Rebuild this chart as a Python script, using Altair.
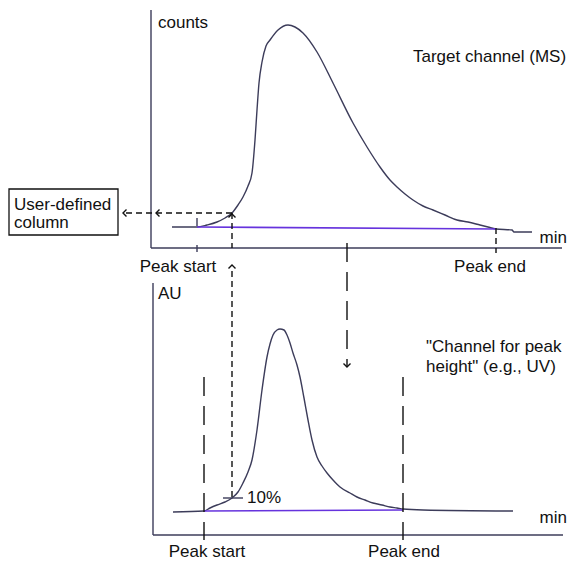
import altair as alt
import pandas as pd

# ---- Target channel (MS) trace (x = time position, y = signal position) ----
ms_x = [172, 197, 207, 217, 225, 232, 238, 243, 248, 252, 255, 257, 259, 262, 266, 270,
        278, 288, 295, 303, 317, 333, 353, 367, 380, 390, 397, 405, 413, 423, 433, 445,
        457, 468, 480, 488, 496, 512, 514, 532]
ms_y = [227, 227, 225, 222, 218, 213, 205, 197, 186, 173, 140, 110, 83, 62, 46, 40,
        30, 25, 27, 33, 52, 83, 123, 147, 167, 180, 187, 194, 200, 206, 210, 215,
        220, 222, 225, 227, 229, 230, 232, 232]

# ---- "Channel for peak height" (UV) trace ----
uv_x = [173, 204, 210, 217, 225, 232, 238, 243, 248, 252, 257, 262, 267, 270, 273, 277,
        280, 284, 287, 290, 293, 297, 300, 304, 308, 312, 317, 322, 327, 333, 340, 350,
        357, 365, 373, 382, 390, 397, 403, 423, 513]
uv_y = [512, 511, 508, 505, 502, 498, 492, 483, 472, 460, 430, 390, 357, 344, 335, 330,
        329, 330, 335, 343, 353, 365, 377, 398, 420, 440, 457, 466, 473, 480, 487, 493,
        497, 500, 503, 505, 507, 508, 509, 510, 511]

# ---- baselines (peak start -> peak end) ----
ms_base_x = [197, 496]
ms_base_y = [227, 229]
uv_base_x = [204, 403]
uv_base_y = [511, 510]

# ---- solid segments: axes and small ticks ----
solid_x1 = [151, 151, 153, 153, 197, 197, 223]
solid_y1 = [10, 248, 283, 535, 218, 245, 498]
solid_x2 = [151, 562, 153, 563, 197, 197, 243]
solid_y2 = [248, 248, 535, 535, 226, 252, 498]

# ---- short-dashed segments ----
sdash_x1 = [232, 232, 232, 496]
sdash_y1 = [213, 213, 271, 228]
sdash_x2 = [122, 232, 232, 496]
sdash_y2 = [213, 248, 497, 253]

# ---- long-dashed segments ----
ldash_x1 = [347, 204, 403]
ldash_y1 = [243, 377, 377]
ldash_x2 = [347, 204, 403]
ldash_y2 = [366, 540, 540]

# ---- arrow heads ----
head_x = [123, 156, 232, 232, 347]
head_y = [213, 213, 265, 214, 367]
head_dir = ["left", "left", "up", "up", "down"]

# ---- label box ----
box_x1, box_y1, box_x2, box_y2 = [9], [189], [118], [235]

# ---- texts ----
txt = ["counts", "Target channel (MS)", "min", "User-defined", "column",
       "Peak start", "Peak end", "AU", '"Channel for peak', 'height" (e.g., UV)',
       "10%", "min", "Peak start", "Peak end"]
txt_x = [158, 413, 567, 14, 14, 178, 490, 158, 426, 426, 247, 567, 207, 404]
txt_y = [23, 57, 238, 205, 223, 267, 267, 294, 347, 367, 498, 518, 552, 552]
txt_align = ["left", "left", "right", "left", "left", "center", "center", "left",
             "left", "left", "left", "right", "center", "center"]

INK = "#3c3c5a"
PURPLE = "#6633dd"
FONT = "Liberation Sans"

xs = alt.Scale(domain=[8, 568], nice=False, zero=False)
ys = alt.Scale(domain=[562, 8], nice=False, zero=False)


def X(f="x"):
    return alt.X(f + ":Q", scale=xs, axis=None)


def Y(f="y"):
    return alt.Y(f + ":Q", scale=ys, axis=None)


def trace(xv, yv):
    return pd.DataFrame({"x": xv, "y": yv, "i": range(len(xv))})


def segs(x1, y1, x2, y2):
    return pd.DataFrame({"x": x1, "y": y1, "x2": x2, "y2": y2})


layers = []

for xv, yv in [(ms_x, ms_y), (uv_x, uv_y)]:
    layers.append(
        alt.Chart(trace(xv, yv)).mark_line(color=INK, strokeWidth=1.4, interpolate="monotone")
        .encode(x=X(), y=Y(), order="i:Q")
    )

for xv, yv in [(ms_base_x, ms_base_y), (uv_base_x, uv_base_y)]:
    layers.append(
        alt.Chart(trace(xv, yv)).mark_line(color=PURPLE, strokeWidth=1.6)
        .encode(x=X(), y=Y(), order="i:Q")
    )

layers.append(
    alt.Chart(segs(solid_x1, solid_y1, solid_x2, solid_y2)).mark_rule(color=INK, strokeWidth=1.4)
    .encode(x=X(), y=Y(), x2="x2:Q", y2="y2:Q")
)
layers.append(
    alt.Chart(segs(sdash_x1, sdash_y1, sdash_x2, sdash_y2))
    .mark_rule(color="#111111", strokeWidth=1.4, strokeDash=[6, 4])
    .encode(x=X(), y=Y(), x2="x2:Q", y2="y2:Q")
)
layers.append(
    alt.Chart(segs(ldash_x1, ldash_y1, ldash_x2, ldash_y2))
    .mark_rule(color="#111111", strokeWidth=1.4, strokeDash=[19, 10])
    .encode(x=X(), y=Y(), x2="x2:Q", y2="y2:Q")
)

shapes = {"left": "M1,-1L0,0L1,1", "up": "M-1,1L0,0L1,1", "down": "M-1,-1L0,0L1,-1"}
heads = pd.DataFrame({"x": head_x, "y": head_y, "d": head_dir})
for d, path in shapes.items():
    layers.append(
        alt.Chart(heads).transform_filter(alt.datum.d == d)
        .mark_point(shape=path, filled=False, size=49, stroke="#111111", strokeWidth=1.4, opacity=1)
        .encode(x=X(), y=Y())
    )

layers.append(
    alt.Chart(segs(box_x1, box_y1, box_x2, box_y2))
    .mark_rect(fillOpacity=0, stroke="#111111", strokeWidth=1.3)
    .encode(x=X(), y=Y(), x2="x2:Q", y2="y2:Q")
)

tdf = pd.DataFrame({"t": txt, "x": txt_x, "y": txt_y, "a": txt_align})
for a in ["left", "center", "right"]:
    layers.append(
        alt.Chart(tdf).transform_filter(alt.datum.a == a)
        .mark_text(align=a, baseline="middle", font=FONT, fontSize=17, color="#111111")
        .encode(x=X(), y=Y(), text="t:N")
    )

chart = (
    alt.layer(*layers)
    .properties(width=560, height=554, padding=0, autosize=alt.AutoSizeParams(type="none"))
    .configure_view(stroke=None)
)

chart.save("out.html", embed_options={"renderer": "svg", "actions": False})
